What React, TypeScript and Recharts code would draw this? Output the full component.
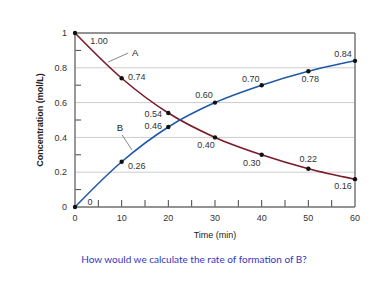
import React from 'react';
import {
  LineChart, Line, XAxis, YAxis, CartesianGrid, ReferenceLine, ReferenceDot, LabelList,
} from 'recharts';

const times = [0, 10, 20, 30, 40, 50, 60];
const concA = [1.0, 0.74, 0.54, 0.4, 0.3, 0.22, 0.16];
const concB = [0, 0.26, 0.46, 0.6, 0.7, 0.78, 0.84];
const yTicks = [0, 0.2, 0.4, 0.6, 0.8, 1];
const xTicks = [0, 10, 20, 30, 40, 50, 60];
const xMinor = [5, 10, 15, 20, 25, 30, 35, 40, 45, 50, 55];
const yMinor = [0.1, 0.3, 0.5, 0.7, 0.9];

// where each value label sits relative to its point
const offA = [[24, 8], [15, -1], [-15, 1], [-9, 8], [-10, 8], [0, -10], [-12, 7]];
const offB = [[15, -5], [15, 4], [-15, -1], [-11, -8], [-11, -6], [2, 8], [-12, -7]];

const data = times.map((t, i) => ({ t, a: concA[i], b: concB[i] }));

const fmt = (v: number) => (v === 0 ? '0' : v.toFixed(2));

const font = 'Liberation Sans, Arial, sans-serif';
const frame = '#777';

const makeLabel = (offs: number[][]) => (props: any) => {
  const { x, y, index, value } = props;
  const [dx, dy] = offs[index];
  return (
    <text x={x + dx} y={y + dy} textAnchor="middle" dominantBaseline="central"
      fontSize={9} fill="#333" fontFamily={font}>
      {fmt(value)}
    </text>
  );
};

export default function App() {
  return (
    <div style={{ position: 'absolute', left: 0, top: 0, width: 388, height: 300, background: '#fff' }}>
      <LineChart width={388} height={300} data={data}
        margin={{ top: 33, right: 33, bottom: 57, left: 40 }}>
        <CartesianGrid vertical={false} stroke="#ccc" />
        <XAxis dataKey="t" type="number" domain={[0, 60]} ticks={xTicks}
          tickLine={false} axisLine={{ stroke: frame, strokeWidth: 1.5 }} height={36}
          tick={{ fontSize: 9, fill: '#333', fontFamily: font }} tickMargin={2}
          label={{ value: 'Time (min)', position: 'insideBottom', offset: 5, fontSize: 9, fill: '#222', fontFamily: font }} />
        <YAxis type="number" domain={[0, 1]} ticks={yTicks} width={35}
          tickLine={false} axisLine={{ stroke: frame, strokeWidth: 1.5 }}
          tickFormatter={(v: number) => (v === 0 || v === 1 ? String(v) : v.toFixed(1))}
          tick={{ fontSize: 9, fill: '#333', fontFamily: font }} tickMargin={2}
          label={{ value: 'Concentration (mol/L)', angle: -90, position: 'insideLeft', offset: 0,
            fontSize: 9, fontWeight: 'bold', fill: '#222', fontFamily: font, style: { textAnchor: 'middle' } }} />
        <ReferenceLine y={1} stroke={frame} strokeWidth={1.5} />
        <ReferenceLine x={60} stroke={frame} strokeWidth={1.5} />
        {xMinor.map((m) => (
          <ReferenceLine key={'x' + m} segment={[{ x: m, y: 0 }, { x: m, y: 0.04 }]} stroke="#444" />
        ))}
        {yMinor.map((m) => (
          <ReferenceLine key={'y' + m} segment={[{ x: 0, y: m }, { x: 1.3, y: m }]} stroke="#444" />
        ))}
        <ReferenceLine segment={[{ x: 11.4, y: 0.885 }, { x: 7.1, y: 0.833 }]} stroke="#888" />
        <ReferenceLine segment={[{ x: 10.1, y: 0.414 }, { x: 12.2, y: 0.328 }]} stroke="#888" />
        <ReferenceDot x={12.9} y={0.885} r={0} fill="none" stroke="none"
          label={{ value: 'A', fontSize: 9.5, fill: '#222', fontFamily: font }} />
        <ReferenceDot x={9.6} y={0.454} r={0} fill="none" stroke="none"
          label={{ value: 'B', fontSize: 9.5, fill: '#222', fontFamily: font }} />
        <Line type="monotone" dataKey="a" stroke="#7b1a2a" strokeWidth={1.6} isAnimationActive={false}
          dot={{ r: 2.2, fill: '#111', stroke: 'none' }}>
          <LabelList dataKey="a" content={makeLabel(offA)} />
        </Line>
        <Line type="monotone" dataKey="b" stroke="#2058a8" strokeWidth={1.6} isAnimationActive={false}
          dot={{ r: 2.2, fill: '#111', stroke: 'none' }}>
          <LabelList dataKey="b" content={makeLabel(offB)} />
        </Line>
      </LineChart>
      <div style={{ position: 'absolute', left: 0, width: 388, top: 253, textAlign: 'center',
        fontFamily: 'Lato, sans-serif', fontSize: 10, color: '#3535c0' }}>
        How would we calculate the rate of formation of B?
      </div>
    </div>
  );
}
